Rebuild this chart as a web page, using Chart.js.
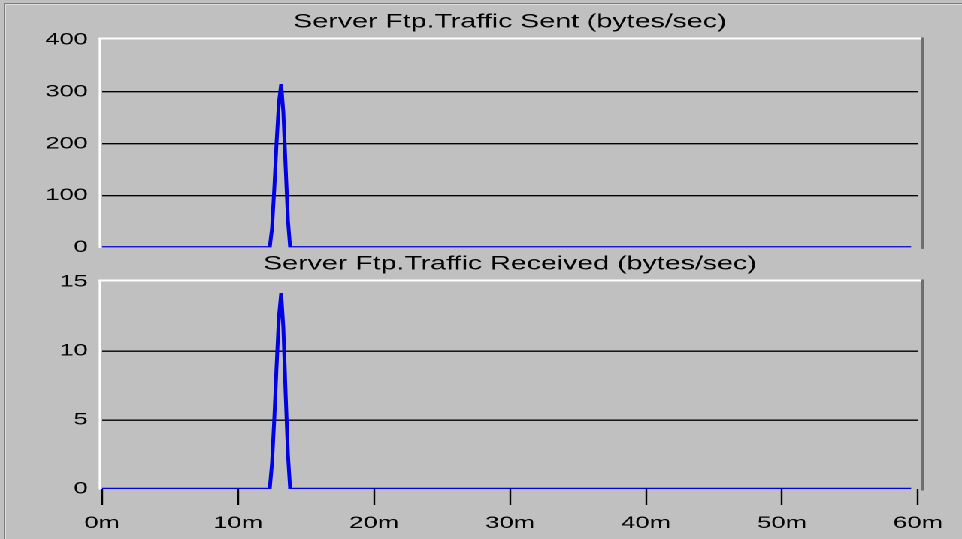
<!DOCTYPE html>
<html>
<head>
<meta charset="utf-8">
<script src="https://cdn.jsdelivr.net/npm/chart.js@4"></script>
<style>
  body { margin: 0; background: #c0c0c0; overflow: hidden; }
  #frame { position: absolute; left: 4px; top: 3px; width: 962px; height: 540px;
           border-top: 1px solid #7c7c7c; border-left: 1px solid #7c7c7c; }
  #frame2 { position: absolute; left: 5px; top: 4px; width: 962px; height: 540px;
           border-top: 1px solid #dedede; border-left: 1px solid #dedede; }
  /* original was drawn narrower and stretched sideways */
  #wrap { position: absolute; left: 0; top: 0; width: 640px; height: 539px;
          transform: scale(1.503125, 1); transform-origin: 0 0; }
  canvas { position: absolute; left: 0; }
</style>
</head>
<body>
<div id="frame"></div>
<div id="frame2"></div>
<div id="wrap">
  <canvas id="sentChart" width="640" height="267" style="top:0px"></canvas>
  <canvas id="recvChart" width="640" height="291" style="top:248px"></canvas>
</div>
<script>
// samples (minutes) - flat zero except the burst around 13m
const minutes = [0, 12.33, 12.5, 12.67, 12.83, 13.0, 13.17, 13.33, 13.5, 13.67, 13.83, 59.5];
const sentBytes = [0, 0, 37, 116, 201, 278, 315, 261, 155, 52, 0, 0];
const receivedBytes = [0, 0, 1.9, 5.2, 8.8, 12.4, 14.2, 11.7, 6.9, 2.5, 0, 0];

const sentTicks = [0, 100, 200, 300, 400];
const receivedTicks = [0, 5, 10, 15];
const timeTicks = [0, 10, 20, 30, 40, 50, 60];

const FONT = "'Liberation Sans', Arial, sans-serif";
const LINE_BLUE = "#0000e6";

// 3d-ish plot border: white top/left, dark right
const plotFrame = {
  id: "plotFrame",
  beforeDraw(chart) {
    const a = chart.chartArea;
    const ctx = chart.ctx;
    ctx.save();
    ctx.fillStyle = "#ffffff";
    ctx.fillRect(a.left - 2.2, a.top - 2.5, a.right - a.left + 4.5, 2);
    ctx.fillRect(a.left - 2.2, a.top - 2.5, 1.6, a.bottom - a.top + 3);
    ctx.fillStyle = "#6e6e6e";
    ctx.fillRect(a.right + 2, a.top - 2.5, 1.8, a.bottom - a.top + 4);
    ctx.restore();
  }
};

function points(ys) {
  return minutes.map((m, i) => ({ x: m, y: ys[i] }));
}

function makeChart(id, title, values, yTicks, showTime) {
  const yMax = yTicks[yTicks.length - 1];
  return new Chart(document.getElementById(id), {
    type: "line",
    data: {
      datasets: [{
        data: points(values),
        borderColor: LINE_BLUE,
        borderWidth: 2.5,
        pointRadius: 0,
        tension: 0,
        fill: false
      }]
    },
    plugins: [plotFrame],
    options: {
      responsive: false,
      animation: false,
      devicePixelRatio: 2,
      layout: {
        padding: { left: 0, right: 29.3, top: 0, bottom: showTime ? 0 : 9 }
      },
      plugins: {
        legend: { display: false },
        tooltip: { enabled: false },
        title: {
          display: true,
          text: title,
          fullSize: false,
          color: "#000",
          font: { family: FONT, size: 19, weight: "normal" },
          padding: showTime ? { top: 5, bottom: 6.2 } : { top: 11, bottom: 6.2 }
        }
      },
      scales: {
        x: {
          type: "linear",
          min: 0,
          max: 60,
          display: showTime,
          afterBuildTicks: (s) => { s.ticks = timeTicks.map(v => ({ value: v })); },
          afterFit: (s) => { s.height = showTime ? 50 : 0; },
          ticks: {
            color: "#000",
            font: { family: FONT, size: 17 },
            padding: 8,
            maxRotation: 0,
            callback: (v) => v + "m"
          },
          grid: {
            drawOnChartArea: false,
            drawTicks: true,
            tickLength: 16,
            tickWidth: 1.2,
            tickColor: "#000"
          },
          border: { display: false }
        },
        y: {
          min: 0,
          max: yMax,
          afterBuildTicks: (s) => { s.ticks = yTicks.map(v => ({ value: v })); },
          afterFit: (s) => { s.width = 67.9; },
          ticks: {
            color: "#000",
            font: { family: FONT, size: 17 },
            padding: 9.4
          },
          grid: {
            drawTicks: false,
            lineWidth: 1.4,
            color: (c) => (c.tick && (c.tick.value === 0 || c.tick.value === yMax)) ? "rgba(0,0,0,0)" : "#000"
          },
          border: { display: false }
        }
      }
    }
  });
}

makeChart("sentChart", "Server Ftp.Traffic Sent (bytes/sec)", sentBytes, sentTicks, false);
makeChart("recvChart", "Server Ftp.Traffic Received (bytes/sec)", receivedBytes, receivedTicks, true);
</script>
</body>
</html>
